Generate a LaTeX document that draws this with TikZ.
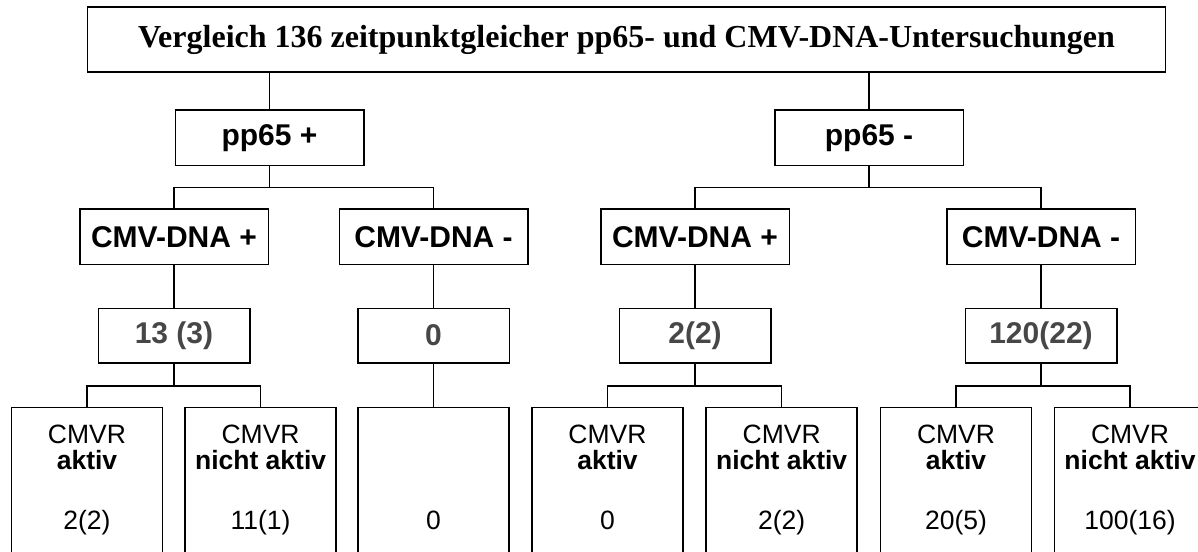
\documentclass[tikz,border=0pt]{standalone}
\usepackage{fontspec}
\setmainfont{Liberation Serif}
\setsansfont{Liberation Sans}
\usetikzlibrary{positioning}

\begin{document}
\begin{tikzpicture}[x=1pt,y=-1pt]
\tikzset{box/.style={draw,line width=1.5pt,rectangle,inner sep=0pt}}
\tikzset{head/.style={box,minimum width=188.5pt,minimum height=55.5pt,
font=\sffamily\bfseries\fontsize{30}{36}\selectfont}}
\tikzset{count/.style={box,minimum width=151.5pt,minimum height=54.5pt,
text=black!72,font=\sffamily\bfseries\fontsize{30}{36}\selectfont}}
\tikzset{leaf/.style={box,anchor=north,minimum width=151pt,minimum height=220pt}}
\tikzset{leaftext/.style={anchor=north,inner xsep=0pt,inner ysep=18pt,align=center,
font=\sffamily\fontsize{26.5}{26}\selectfont}}
\tikzset{link/.style={draw,line width=1.5pt}}
\clip (0,0) rectangle (1198,551);

\node[box,minimum width=1078pt,minimum height=64.5pt,font=\bfseries\fontsize{32}{38}\selectfont]
  (title) at (626.5,39.5) {Vergleich 136 zeitpunktgleicher pp65- und CMV-DNA-Untersuchungen};

\node[head] (ppplus) at (269.5,137.9) {pp65 +};
\node[head] (ppminus) at (869,137.9) {pp65 -};

\node[head] (dnaA) at (174,236.7) {CMV-DNA +};
\node[head] (dnaB) at (433.5,236.7) {CMV-DNA -};
\node[head] (dnaC) at (695,236.7) {CMV-DNA +};
\node[head] (dnaD) at (1041,236.7) {CMV-DNA -};

\node[count] (numA) at (174,335.5) {13 (3)};
\node[count] (numB) at (433.5,335.5) {0};
\node[count] (numC) at (695,335.5) {2(2)};
\node[count] (numD) at (1041,335.5) {120(22)};

\node[leaf,label={[leaftext]north:{CMVR\\\textbf{aktiv}\\[34pt]2(2)}}] (leafA1) at (87,406.7) {};
\node[leaf,label={[leaftext]north:{CMVR\\\textbf{nicht aktiv}\\[34pt]11(1)}}] (leafA2) at (260.6,406.7) {};
\node[leaf,label={[leaftext]north:{\phantom{CMVR}\\\phantom{\textbf{aktiv}}\\[34pt]0}}] (leafB) at (433.5,406.7) {};
\node[leaf,label={[leaftext]north:{CMVR\\\textbf{aktiv}\\[34pt]0}}] (leafC1) at (607.5,406.7) {};
\node[leaf,label={[leaftext]north:{CMVR\\\textbf{nicht aktiv}\\[34pt]2(2)}}] (leafC2) at (781.7,406.7) {};
\node[leaf,label={[leaftext]north:{CMVR\\\textbf{aktiv}\\[34pt]20(5)}}] (leafD1) at (956,406.7) {};
\node[leaf,label={[leaftext]north:{CMVR\\\textbf{nicht aktiv}\\[34pt]100(16)}}] (leafD2) at (1130,406.7) {};

% connectors
\draw[link] (title.south -| ppplus.north) -- (ppplus.north);
\draw[link] (title.south -| ppminus.north) -- (ppminus.north);
\draw[link] (ppplus.south) -- ++(0,21) -| (dnaA.north);
\draw[link] (ppplus.south) -- ++(0,21) -| (dnaB.north);
\draw[link] (ppminus.south) -- ++(0,21) -| (dnaC.north);
\draw[link] (ppminus.south) -- ++(0,21) -| (dnaD.north);
\draw[link] (dnaA) -- (numA);
\draw[link] (dnaB) -- (numB);
\draw[link] (dnaC) -- (numC);
\draw[link] (dnaD) -- (numD);
\draw[link] (numA.south) -- ++(0,22.5) -| (leafA1.north);
\draw[link] (numA.south) -- ++(0,22.5) -| (leafA2.north);
\draw[link] (numB) -- (leafB);
\draw[link] (numC.south) -- ++(0,22.5) -| (leafC1.north);
\draw[link] (numC.south) -- ++(0,22.5) -| (leafC2.north);
\draw[link] (numD.south) -- ++(0,22.5) -| (leafD1.north);
\draw[link] (numD.south) -- ++(0,22.5) -| (leafD2.north);
\end{tikzpicture}
\end{document}
